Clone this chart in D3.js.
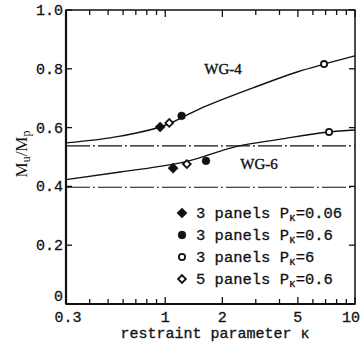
<!DOCTYPE html>
<html>
<head>
<meta charset="utf-8">
<script src="https://cdnjs.cloudflare.com/ajax/libs/d3/7.8.5/d3.min.js"></script>
<style>
body { margin: 0; background: #fff; }
svg { display: block; }
text { fill: #111; }
</style>
</head>
<body>
<script>
var width = 364,
    height = 355;

// curve samples (kappa, Mu/Mp)
var wg4Kappa = [0.3, 0.58, 1.0, 1.5, 2.9, 5, 6.9, 10];
var wg4Value = [0.548, 0.571, 0.608, 0.662, 0.735, 0.79, 0.816, 0.844];
var wg6Kappa = [0.3, 0.58, 1.32, 2.39, 4, 7.3, 10];
var wg6Value = [0.423, 0.449, 0.486, 0.536, 0.56, 0.585, 0.592];

// test points
var filledDiamond = [[0.94, 0.602], [1.10, 0.462]];
var filledCircle  = [[1.22, 0.640], [1.64, 0.487]];
var openCircle    = [[6.87, 0.816], [7.3, 0.585]];
var openDiamond   = [[1.05, 0.616], [1.30, 0.476]];

// horizontal dash-dot lines
var refLines = [0.538, 0.397];

var xTickLabels = [0.3, 1, 2, 5, 10];
var xMinor = [0.3,0.4,0.5,0.6,0.7,0.8,0.9,1,2,3,4,5,6,7,8,9,10];
var yTicks = [0, 0.2, 0.4, 0.6, 0.8, 1.0];

var legendLabels = [
    ["3 panels P", "=0.06"],
    ["3 panels P", "=0.6"],
    ["3 panels P", "=6"],
    ["5 panels P", "=0.6"]
];
var legendTypes = ["filledDiamond", "filledCircle", "openCircle", "openDiamond"];

var svg = d3.select('body')
    .append('svg')
    .attr('width', width)
    .attr('height', height);

var x = d3.scaleLog().domain([0.3, 10]).range([66, 355]);
var y = d3.scaleLinear().domain([0, 1]).range([304, 10]);

var mono = "'Liberation Mono', 'DejaVu Sans Mono', monospace";
var serif = "'Liberation Serif', 'DejaVu Serif', serif";

// frame
svg.append('rect')
    .attr('x', x(0.3)).attr('y', y(1))
    .attr('width', x(10) - x(0.3)).attr('height', y(0) - y(1))
    .attr('fill', 'none').attr('stroke', '#111').attr('stroke-width', 1.5);
svg.append('line').attr('x1', x(0.3)).attr('x2', x(0.3)).attr('y1', y(1)).attr('y2', y(0))
    .attr('stroke', '#111').attr('stroke-width', 2.2);
svg.append('line').attr('x1', x(0.3)).attr('x2', x(10)).attr('y1', y(0)).attr('y2', y(0))
    .attr('stroke', '#111').attr('stroke-width', 2.2);

// x ticks, bottom and top, inward
var major = [1, 2, 5, 10];
var tk = svg.append('g');
tk.selectAll('.xb').data(xMinor).enter().append('line')
    .attr('x1', d => x(d)).attr('x2', d => x(d))
    .attr('y1', y(0)).attr('y2', d => y(0) - (major.indexOf(d) >= 0 ? 7 : 5))
    .attr('stroke', '#111').attr('stroke-width', 1.3);
tk.selectAll('.xt').data(xMinor).enter().append('line')
    .attr('x1', d => x(d)).attr('x2', d => x(d))
    .attr('y1', y(1)).attr('y2', d => y(1) + (major.indexOf(d) >= 0 ? 7 : 5))
    .attr('stroke', '#111').attr('stroke-width', 1.3);
tk.selectAll('.yl').data(yTicks).enter().append('line')
    .attr('x1', x(0.3)).attr('x2', x(0.3) + 6)
    .attr('y1', d => y(d)).attr('y2', d => y(d))
    .attr('stroke', '#111').attr('stroke-width', 1.3);
tk.selectAll('.yr').data(yTicks).enter().append('line')
    .attr('x1', x(10)).attr('x2', x(10) - 6)
    .attr('y1', d => y(d)).attr('y2', d => y(d))
    .attr('stroke', '#111').attr('stroke-width', 1.3);

// tick labels
svg.selectAll('.xlab').data(xTickLabels).enter().append('text')
    .attr('x', d => x(d) + (d == 0.3 ? 2 : (d == 10 ? -4 : 0)))
    .attr('y', 322)
    .attr('text-anchor', 'middle')
    .style('font-family', mono).style('font-size', '15px')
    .style('stroke', '#111').style('stroke-width', 0.3)
    .text(d => d);
svg.selectAll('.ylab').data(yTicks).enter().append('text')
    .attr('x', 63)
    .attr('y', d => y(d) + 5 - (d == 0 ? 8 : 0))
    .attr('text-anchor', 'end')
    .style('font-family', mono).style('font-size', '15px')
    .style('stroke', '#111').style('stroke-width', 0.3)
    .text(d => d == 0 ? '0' : d3.format('.1f')(d));

// axis titles
svg.append('text')
    .attr('x', 215).attr('y', 338)
    .attr('text-anchor', 'middle')
    .style('font-family', mono).style('font-size', '15px')
    .style('stroke', '#111').style('stroke-width', 0.3)
    .text('restraint parameter \u03ba');

var yt = svg.append('text')
    .attr('transform', 'translate(27,154) rotate(-90)')
    .attr('text-anchor', 'middle')
    .style('font-family', serif).style('font-size', '17px');
yt.append('tspan').text('M');
yt.append('tspan').attr('baseline-shift', '-25%').style('font-size', '12px').text('u');
yt.append('tspan').text('/M');
yt.append('tspan').attr('baseline-shift', '-25%').style('font-size', '12px').text('p');

// reference dash-dot lines
svg.selectAll('.ref').data(refLines).enter().append('line')
    .attr('x1', x(0.3)).attr('x2', x(10))
    .attr('y1', d => y(d)).attr('y2', d => y(d))
    .attr('stroke', '#111').attr('stroke-width', 1.1)
    .attr('stroke-dasharray', '24,3,2,3');

// curves
var line = d3.line()
    .x(d => x(d[0])).y(d => y(d[1]))
    .curve(d3.curveMonotoneX);
var curves = [d3.zip(wg4Kappa, wg4Value), d3.zip(wg6Kappa, wg6Value)];
svg.selectAll('.curve').data(curves).enter().append('path')
    .attr('d', line)
    .attr('fill', 'none').attr('stroke', '#111').attr('stroke-width', 1.4);

// curve labels
svg.append('text').attr('x', 223).attr('y', 74).attr('text-anchor', 'middle')
    .style('font-family', serif).style('font-size', '15px')
    .style('stroke', '#111').style('stroke-width', 0.4).text('WG-4');
svg.append('text').attr('x', 259).attr('y', 169).attr('text-anchor', 'middle')
    .style('font-family', serif).style('font-size', '15px')
    .style('stroke', '#111').style('stroke-width', 0.4).text('WG-6');

// markers
var sym = {
    filledDiamond: d3.symbol().type(d3.symbolSquare).size(52),
    filledCircle: d3.symbol().type(d3.symbolCircle).size(48),
    openCircle: d3.symbol().type(d3.symbolCircle).size(30),
    openDiamond: d3.symbol().type(d3.symbolSquare).size(30)
};
function drawMarker(sel, type) {
    var open = type.indexOf('open') == 0;
    var rot = type.indexOf('Diamond') > 0 ? ' rotate(45)' : '';
    sel.attr('d', sym[type])
        .attr('transform', d => 'translate(' + d[0] + ',' + d[1] + ')' + rot)
        .attr('fill', open ? '#fff' : '#111')
        .attr('stroke', '#111')
        .attr('stroke-width', open ? 1.8 : 0.5);
}
var pts = {filledDiamond: filledDiamond, filledCircle: filledCircle, openCircle: openCircle, openDiamond: openDiamond};
legendTypes.forEach(function(t) {
    svg.selectAll('.p-' + t).data(pts[t].map(d => [x(d[0]), y(d[1])])).enter().append('path')
        .call(drawMarker, t);
});

// legend
var lg = svg.append('g');
legendTypes.forEach(function(t, i) {
    var yy = 213 + i * 22;
    lg.append('path').datum([182, yy]).call(drawMarker, t);
    var tx = lg.append('text').attr('x', 196).attr('y', yy + 5)
        .style('font-family', mono).style('font-size', '15.5px')
        .style('stroke', '#111').style('stroke-width', 0.3);
    tx.append('tspan').text(legendLabels[i][0]);
    tx.append('tspan').attr('baseline-shift', '-30%').style('font-size', '11px').text('\u03ba');
    tx.append('tspan').text(legendLabels[i][1]);
});
</script>
</body>
</html>
